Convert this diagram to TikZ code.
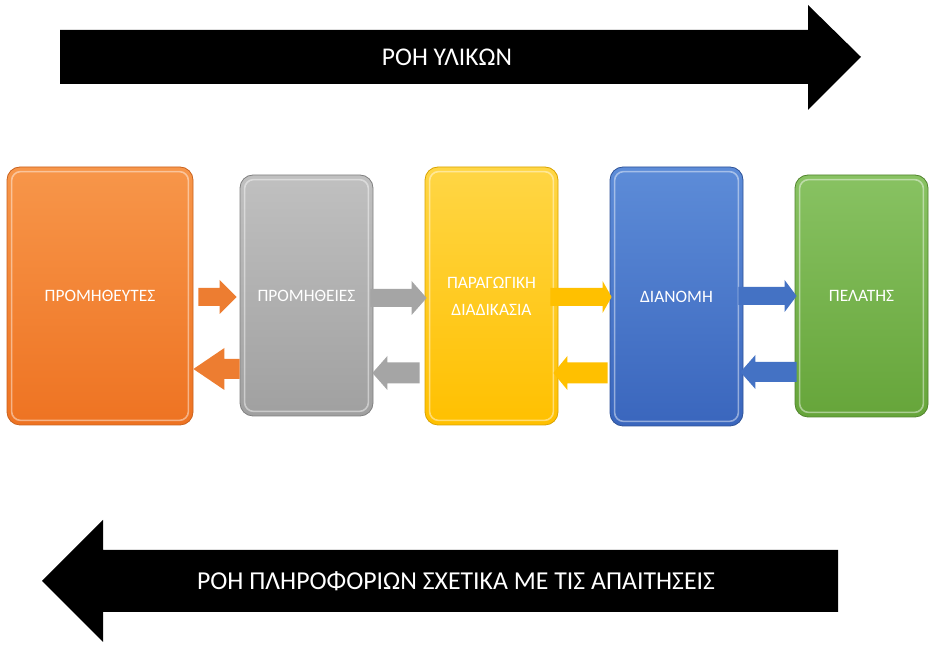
\documentclass[tikz,border=0pt]{standalone}
\usepackage{fontspec}
\setmainfont{Carlito}
\usetikzlibrary{calc}
\definecolor{orA}{HTML}{F7964A}
\definecolor{orB}{HTML}{EE7322}
\definecolor{orC}{HTML}{ED7D31}
\definecolor{grA}{HTML}{C0C0C0}
\definecolor{grB}{HTML}{A0A0A0}
\definecolor{grC}{HTML}{A5A5A5}
\definecolor{yeA}{HTML}{FFD645}
\definecolor{yeB}{HTML}{FFC000}
\definecolor{yeC}{HTML}{FFC000}
\definecolor{blA}{HTML}{5D8CD8}
\definecolor{blB}{HTML}{3A66BD}
\definecolor{blC}{HTML}{4472C4}
\definecolor{gnA}{HTML}{88C262}
\definecolor{gnB}{HTML}{66A53A}
\definecolor{gnC}{HTML}{70AD47}
\tikzset{
  procbox/.style={rectangle, rounded corners=13pt, inner sep=0pt, align=center,
    text=white, font=\fontsize{17.4}{27}\selectfont, line width=0.8pt},
  flowtext/.style={text=white, inner sep=0pt},
  bevel/.style={white, opacity=0.45, line width=1.6pt, rounded corners=9pt},
}
% right-pointing block arrow: color, tail node, tail offset, tip node, tip offset, y, shaft half, head half, head length
\newcommand\rblk[9]{%
  \fill[#1] let \p1=(#2), \p2=(#4) in
    (\x1+#3pt,#6pt+#7pt) -- (\x2+#5pt-#9pt,#6pt+#7pt) -- (\x2+#5pt-#9pt,#6pt+#8pt)
    -- (\x2+#5pt,#6pt) -- (\x2+#5pt-#9pt,#6pt-#8pt) -- (\x2+#5pt-#9pt,#6pt-#7pt)
    -- (\x1+#3pt,#6pt-#7pt) -- cycle;}
% left-pointing block arrow: color, tail node, tail offset, tip node, tip offset, y, shaft half, head half, head length
\newcommand\lblk[9]{%
  \fill[#1] let \p1=(#2), \p2=(#4) in
    (\x1+#3pt,#6pt+#7pt) -- (\x2+#5pt+#9pt,#6pt+#7pt) -- (\x2+#5pt+#9pt,#6pt+#8pt)
    -- (\x2+#5pt,#6pt) -- (\x2+#5pt+#9pt,#6pt-#8pt) -- (\x2+#5pt+#9pt,#6pt-#7pt)
    -- (\x1+#3pt,#6pt-#7pt) -- cycle;}
\begin{document}
\begin{tikzpicture}[x=1pt,y=1pt]
\useasboundingbox (0,0) rectangle (935,653);
\fill[white] (0,0) rectangle (935,653);

% top arrow: material flow
\fill[black] (60,623) -- (808,623) -- (808,648) -- (861,596) -- (808,543) -- (808,569) -- (60,569) -- cycle;
\node[flowtext, font=\fontsize{25.5}{30}\selectfont] (matflow) at (447,596) {ΡΟΗ ΥΛΙΚΩΝ};

% bottom arrow: information flow
\fill[black] (838,103) -- (103,103) -- (103,133) -- (42,72) -- (103,11) -- (103,41) -- (838,41) -- cycle;
\node[flowtext, font=\fontsize{25.8}{30}\selectfont] (infoflow) at (456,72) {ΡΟΗ ΠΛΗΡΟΦΟΡΙΩΝ ΣΧΕΤΙΚΑ ΜΕ ΤΙΣ ΑΠΑΙΤΗΣΕΙΣ};

% boxes
\node[procbox, top color=orA, bottom color=orB, draw=orB!85!black, minimum width=186pt, minimum height=258pt] (sup) at (100,357) {ΠΡΟΜΗΘΕΥΤΕΣ};
\node[procbox, top color=grA, bottom color=grB, draw=grB!80!black, minimum width=133pt, minimum height=241pt] (supp) at (306.5,357.5) {ΠΡΟΜΗΘΕΙΕΣ};
\node[procbox, top color=yeA, bottom color=yeB, draw=yeB!85!black, minimum width=133pt, minimum height=258pt] (prod) at (491.5,357) {ΠΑΡΑΓΩΓΙΚΗ\\ΔΙΑΔΙΚΑΣΙΑ};
\node[procbox, top color=blA, bottom color=blB, draw=blB!80!black, minimum width=133pt, minimum height=259pt] (dist) at (676.5,356.5) {ΔΙΑΝΟΜΗ};
\node[procbox, top color=gnA, bottom color=gnB, draw=gnB!80!black, minimum width=133pt, minimum height=242pt] (cust) at (861.5,357) {ΠΕΛΑΤΗΣ};

% bevel highlights
\foreach \b in {sup,supp,prod,dist,cust}{
  \draw[bevel] ($(\b.south west)+(5,5)$) rectangle ($(\b.north east)+(-5,-5)$);
}

% forward (material) arrows
\rblk{orC}{sup.east}{5}{supp.west}{-3}{356}{9}{17}{17}
\rblk{grC}{supp.east}{-3}{prod.west}{2}{355}{9}{17}{15}
\rblk{yeC}{prod.east}{-8}{dist.west}{2}{356}{9}{16}{9}
\rblk{blC}{dist.east}{-5}{cust.west}{2}{357}{9}{16}{12}

% backward (information) arrows
\lblk{orC}{supp.west}{0}{sup.east}{0}{284}{10}{21}{31}
\lblk{grC}{prod.west}{-5}{supp.east}{-1}{280}{10.5}{17}{15}
\lblk{yeC}{dist.west}{-2}{prod.east}{-5}{280}{10.5}{17}{14}
\lblk{blC}{cust.west}{2}{dist.east}{-3}{281}{10}{17}{15}
\end{tikzpicture}
\end{document}
